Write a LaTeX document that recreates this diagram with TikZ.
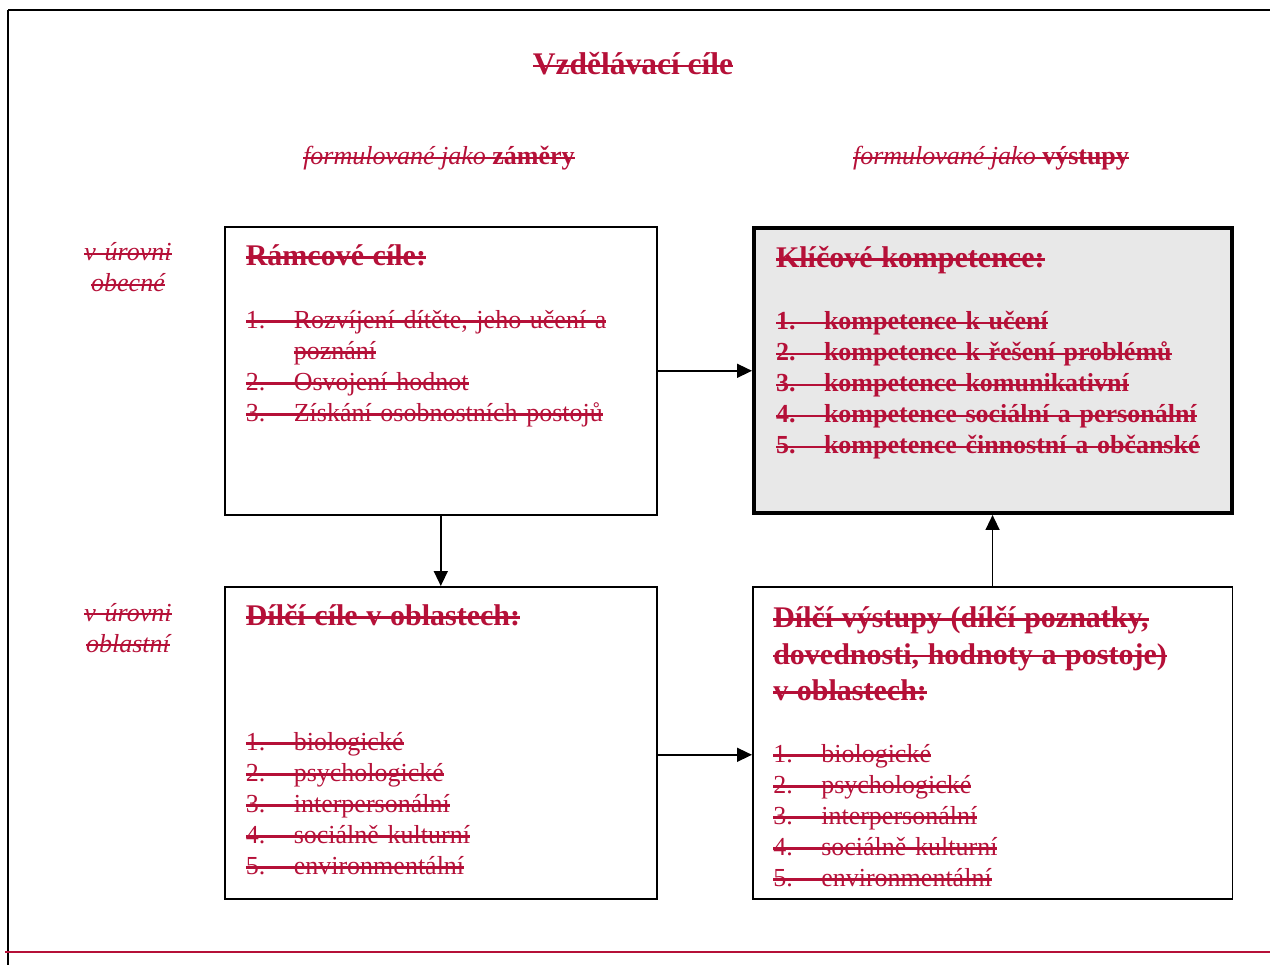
\documentclass[tikz,border=0pt]{standalone}
\usepackage{fontspec}
\setmainfont{Liberation Serif}
\usetikzlibrary{arrows.meta}
\definecolor{crimson}{RGB}{181,16,56}
\definecolor{kkgray}{RGB}{232,232,232}
\newsavebox\strkbox
\newcommand\strk[1]{\leavevmode\sbox\strkbox{#1}\rlap{\usebox\strkbox}\rule[.24em]{\wd\strkbox}{.085em}}
\newcommand\hd{\fontsize{30}{31}\selectfont\bfseries}
\newcommand\itemno[1]{\makebox[48pt][l]{#1}}

\begin{document}
\begin{tikzpicture}[x=1pt,y=-1pt,
    lbl/.style={text=crimson,font=\fontsize{26}{31}\selectfont,inner sep=0pt},
    box/.style={draw,line width=1.6pt,text=crimson,font=\fontsize{26}{31}\selectfont,align=left,inner xsep=21pt,inner ysep=0pt,anchor=north west},
    conn/.style={line width=1.5pt,-{Triangle[length=15pt,width=14pt]}}]
    \useasboundingbox (0,0) rectangle (1270,965);
    % frame of the page
    \draw[line width=2.5pt] (8,10) -- (1270,10);
    \draw[line width=1.5pt] (8,10) -- (8,965);
    \draw[crimson,line width=2.6pt] (5,952) -- (1270,952);
    % headings
    \node[lbl,font=\fontsize{31.5}{31}\selectfont\bfseries,anchor=base] (title) at (633,75) {\strk{Vzdělávací cíle}};
    \node[lbl,anchor=base] (zamery) at (439,165) {\strk{\itshape formulované jako \upshape\bfseries záměry}};
    \node[lbl,anchor=base] (vystupy) at (991,165) {\strk{\itshape formulované jako \upshape\bfseries výstupy}};
    \node[lbl,font=\fontsize{26}{31}\selectfont\itshape,text width=120pt,align=center,anchor=base] (obecne) at (128,261) {\strk{v úrovni}\\\strk{obecné}};
    \node[lbl,font=\fontsize{26}{31}\selectfont\itshape,text width=120pt,align=center,anchor=base] (oblastni) at (128,621) {\strk{v úrovni}\\\strk{oblastní}};
    % boxes
    \node[box,text width=390pt,text height=39pt,text depth=249pt] (ramce) at (224,226) {%
        {\hd\strk{Rámcové cíle:}}\\[32pt]
        \strk{\itemno{1.}Rozvíjení dítěte, jeho učení a}\\
        \hspace*{48pt}\strk{poznání}\\
        \strk{\itemno{2.}Osvojení hodnot}\\
        \strk{\itemno{3.}Získání osobnostních postojů}};
    \node[box,line width=4pt,fill=kkgray,inner xsep=22pt,text width=434pt,text height=40pt,text depth=245pt] (klic) at (752,226) {%
        {\hd\strk{Klíčové kompetence:}}\\[31pt]
        \bfseries
        \strk{\itemno{1.}kompetence k učení}\\
        \strk{\itemno{2.}kompetence k řešení problémů}\\
        \strk{\itemno{3.}kompetence komunikativní}\\
        \strk{\itemno{4.}kompetence sociální a personální}\\
        \strk{\itemno{5.}kompetence činnostní a občanské}};
    \node[box,text width=390pt,text height=39pt,text depth=273pt] (dilcile) at (224,586) {%
        {\hd\strk{Dílčí cíle v oblastech:}}\\[94pt]
        \strk{\itemno{1.}biologické}\\
        \strk{\itemno{2.}psychologické}\\
        \strk{\itemno{3.}interpersonální}\\
        \strk{\itemno{4.}sociálně kulturní}\\
        \strk{\itemno{5.}environmentální}};
    \node[box,inner xsep=20.5pt,text width=438.5pt,text height=41pt,text depth=271pt] (dilvys) at (752,586) {%
        {\hd\strk{Dílčí výstupy (dílčí poznatky,}}\\[5.5pt]
        {\hd\strk{dovednosti, hodnoty a postoje)}}\\[5.5pt]
        {\hd\strk{v oblastech:}}\\[31pt]
        \strk{\itemno{1.}biologické}\\
        \strk{\itemno{2.}psychologické}\\
        \strk{\itemno{3.}interpersonální}\\
        \strk{\itemno{4.}sociálně kulturní}\\
        \strk{\itemno{5.}environmentální}};
    % connectors
    \draw[conn] (ramce.east) -- (ramce.east -| klic.west);
    \draw[conn] (ramce.south) -- (dilcile.north);
    \draw[conn] ([yshift=-12pt]dilcile.east) -- ([yshift=-12pt]dilcile.east -| dilvys.west);
    \draw[conn] (dilvys.north) -- (dilvys.north |- klic.south);
\end{tikzpicture}
\end{document}
